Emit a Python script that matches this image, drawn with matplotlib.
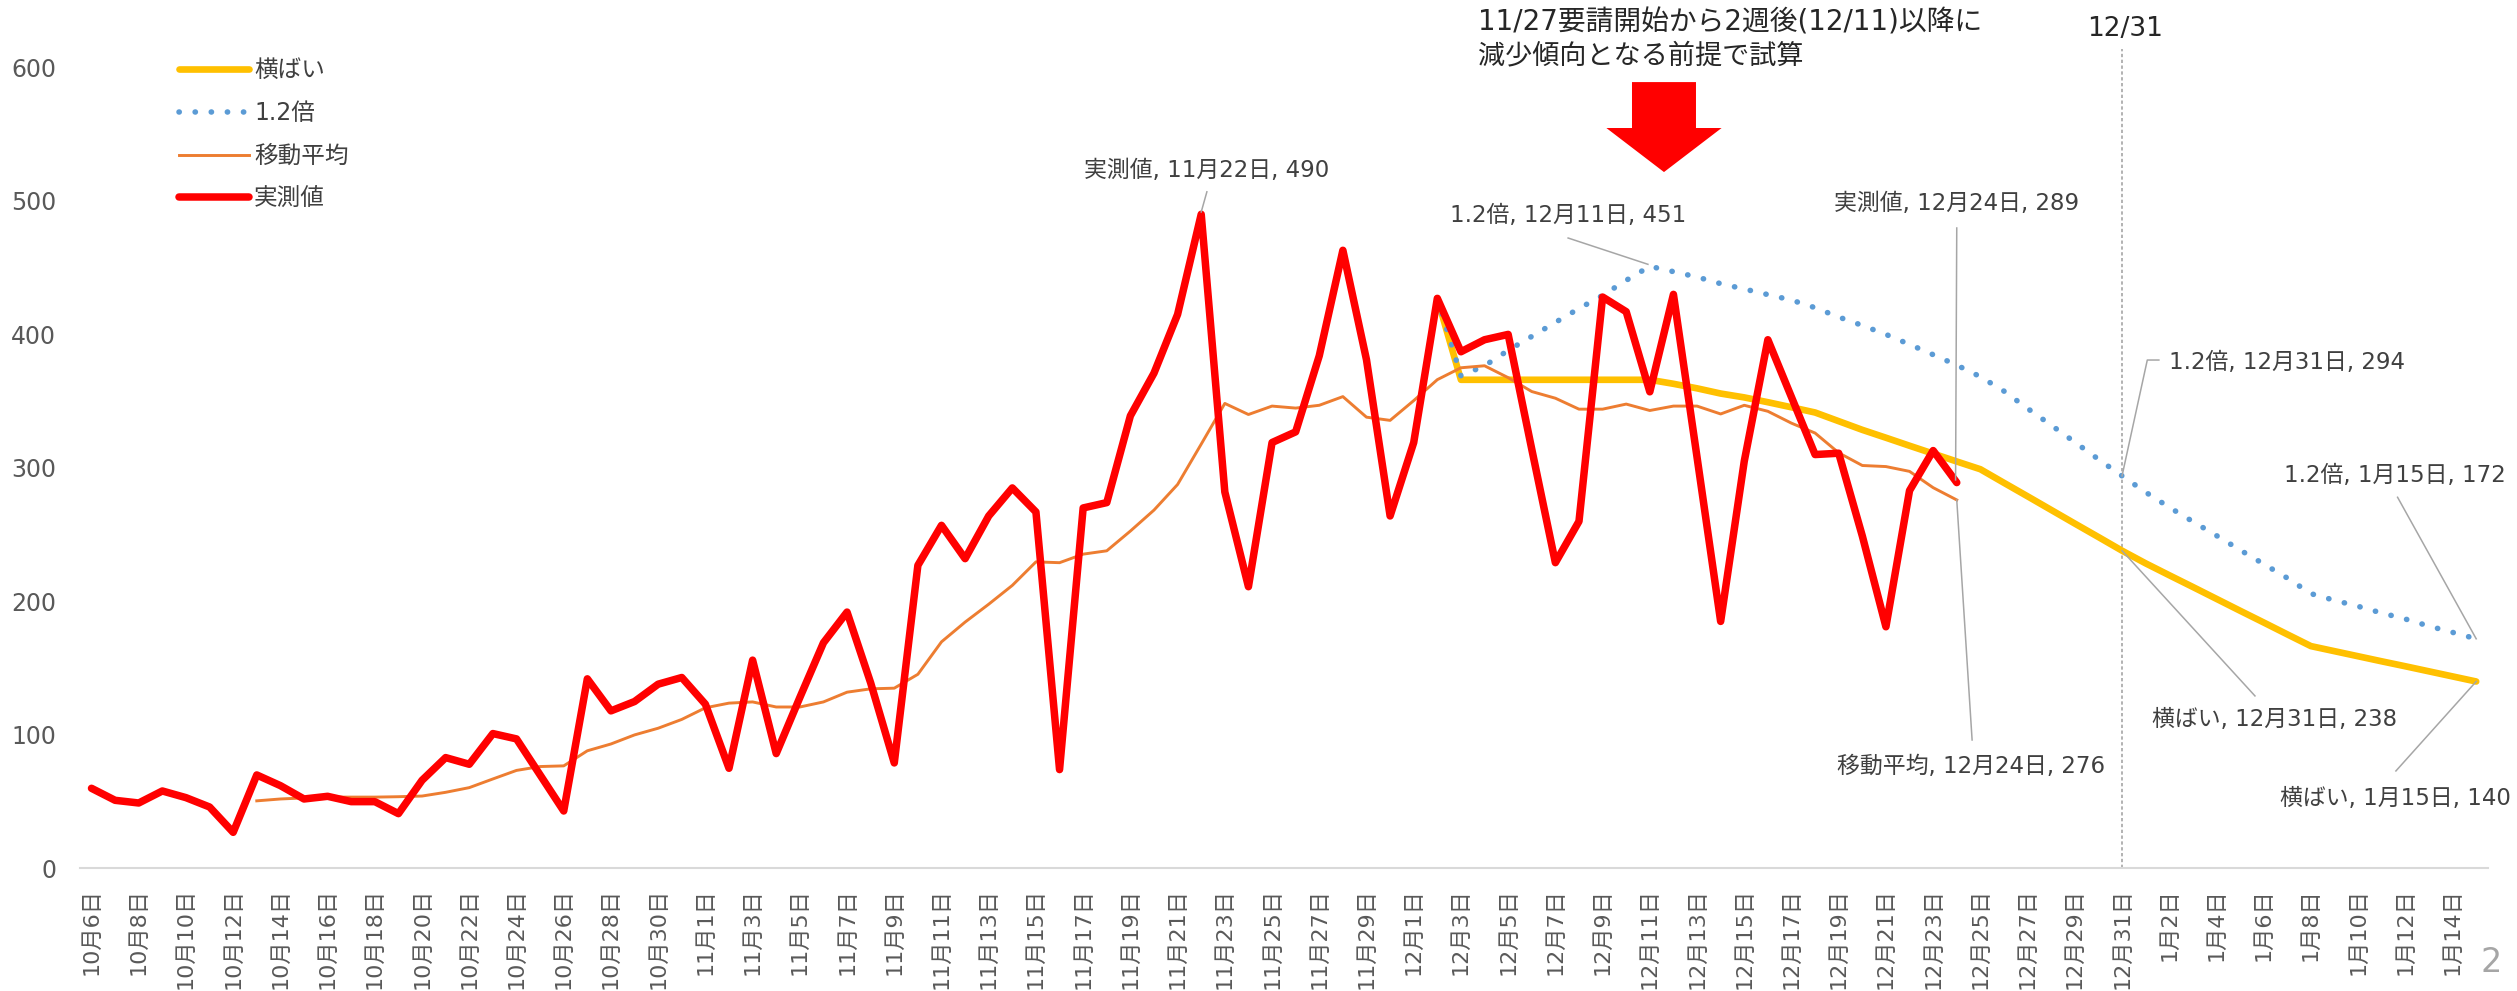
import numpy as np
import pandas as pd
import matplotlib
matplotlib.use('Agg')
import matplotlib.pyplot as plt
from matplotlib.lines import Line2D
from matplotlib.patches import Polygon

plt.rcParams['font.family'] = ['DejaVu Sans', 'Noto Sans CJK JP']

# ---------------- data ----------------
dates = pd.date_range('2020-10-06', '2021-01-15', freq='D')
categories = [f"{d.month}月{d.day}日" for d in dates]

actual_start = '10月6日'
actual = [60, 51, 49, 58, 53, 46, 27, 70, 62, 52, 54, 50, 50, 41, 66, 83, 78, 101, 97, 70,
          43, 142, 118, 125, 138, 143, 123, 75, 156, 86, 128, 169, 192, 139, 79, 227, 257, 232,
          264, 285, 267, 74, 270, 274, 339, 371, 415, 490, 282, 211, 319, 327, 384, 463, 381,
          264, 319, 427, 387, 396, 400, 314, 229, 260, 428, 417, 357, 430, 308, 185, 305, 396,
          353, 310, 311, 249, 181, 283, 313, 289]

ma_start = '10月13日'
moving_avg = [50.6, 52, 52.8, 53.4, 53.4, 53.4, 53.7, 54.2, 57, 60.5, 67, 73.4, 76.3, 76.8,
              88.1, 93.2, 100, 105, 111.6, 120.3, 123.8, 124.7, 120.9, 120.9, 124.7, 132,
              134.5, 135, 145.4, 169.7, 184.5, 197.9, 212, 229.6, 229, 235.4, 237.9, 252.7,
              268.4, 287.6, 317.8, 348.3, 340, 346.3, 344.8, 346.9, 353.4, 338, 335.6, 350.4,
              366.1, 375, 376.5, 367.6, 357.2, 352.2, 344, 344, 347.8, 343, 346.3, 346.3,
              340.4, 346.9, 342.4, 333.5, 326.1, 311.3, 301.8, 301, 297.4, 285.2, 276]

flat_start = '12月2日'
flat = [427, 366, 366, 366, 366, 366, 366, 366, 366, 366, 363, 359.6, 355.7, 352.8, 349.2,
        345.4, 341.5, 335, 328.5, 322.6, 316.6, 310.7, 304.8, 299, 288.8, 278.7, 268.5,
        258.3, 248.2, 238, 228.5, 219.6, 210.8, 201.9, 193, 184.2, 175.3, 166.5, 162.7,
        158.9, 155.1, 151.4, 147.6, 143.8, 140]

x12_start = '12月2日'
x12 = [427, 369, 376.5, 388, 398.5, 409, 419.4, 429.2, 440.5, 451, 447, 443, 438, 434,
       429.8, 425.7, 420, 413, 406.7, 400, 392.5, 384.8, 377, 368.3, 357.5, 344.5, 332,
       319.3, 306.5, 294, 281.8, 270.5, 259.8, 249.3, 238.5, 228, 217.5, 205.8, 200.8,
       196.3, 191.3, 186.8, 181.5, 176.8, 172]

tick_labels = categories[::2]
y_ticks = [0, 100, 200, 300, 400, 500, 600]

legend_names = ['横ばい', '1.2倍', '移動平均', '実測値']

# ---------------- style ----------------
C_FLAT = '#FFC000'
C_X12 = '#5B9BD5'
C_MA = '#ED7D31'
C_ACT = '#FF0000'
C_TXT = '#404040'
C_AX = '#595959'
C_LEAD = '#A6A6A6'

W, H, DPI = 2517, 991, 100
fig = plt.figure(figsize=(W / DPI, H / DPI), dpi=DPI)
ax = fig.add_axes([79.7 / W, 1 - 868.4 / H, (2488 - 79.7) / W, (868.4 - 67.4) / H])


def xs(start, vals):
    i0 = categories.index(start)
    return np.arange(i0, i0 + len(vals))


ax.plot(xs(flat_start, flat), flat, color=C_FLAT, lw=4.8, solid_capstyle='round',
        solid_joinstyle='round', zorder=2)
ax.plot(xs(x12_start, x12), x12, color=C_X12, lw=4.0, linestyle=(0, (0.05, 2.85)),
        dash_capstyle='round', zorder=3)
ax.plot(xs(ma_start, moving_avg), moving_avg, color=C_MA, lw=2.1, solid_joinstyle='round',
        zorder=4)
ax.plot(xs(actual_start, actual), actual, color=C_ACT, lw=5.4, solid_capstyle='round',
        solid_joinstyle='round', zorder=5)

ax.set_xlim(-0.5, len(categories) - 0.5)
ax.set_ylim(0, 600)
ax.set_xticks(np.arange(0, len(categories), 2))
ax.set_xticklabels(tick_labels, rotation=90, ha='center', va='top', fontsize=16, color=C_AX)
ax.set_yticks(y_ticks)
ax.set_yticklabels([str(v) for v in y_ticks], fontsize=17, color=C_AX)
ax.tick_params(axis='x', length=0, pad=14)
ax.tick_params(axis='y', length=0, pad=17)
for s in ['top', 'right', 'left']:
    ax.spines[s].set_visible(False)
ax.spines['bottom'].set_color('#D9D9D9')
ax.spines['bottom'].set_linewidth(1.5)

# 12/31 marker line
i_1231 = categories.index('12月31日')
ax.plot([i_1231, i_1231], [0, 614], color=C_LEAD, lw=1.2, linestyle=(0, (2, 1.5)),
        clip_on=False, zorder=1)
fig.text(2125 / W, 1 - 29 / H, '12/31', ha='center', va='center', fontsize=19, color='#262626')

# header text and arrow
fig.text(1478 / W, 1 - 22 / H, '11/27要請開始から2週後(12/11)以降に', ha='left', va='center',
         fontsize=20, color='#262626')
fig.text(1478 / W, 1 - 56 / H, '減少傾向となる前提で試算', ha='left', va='center',
         fontsize=19.5, color='#262626')
cx = 66.6
arrow = Polygon([(cx - 1.355, 589), (cx + 1.355, 589), (cx + 1.355, 554.6), (cx + 2.44, 554.6),
                 (cx, 521.6), (cx - 2.44, 554.6), (cx - 1.355, 554.6)], closed=True,
                facecolor='#FF0000', edgecolor='none', clip_on=False, zorder=6)
ax.add_patch(arrow)

# data labels with leader lines
labels = [
    ('実測値, 11月22日, 490', 47.24, 522.5, 'center', [(47.24, 506.8), (47.0, 491.7)]),
    ('1.2倍, 12月11日, 451', 62.54, 488.7, 'center', [(62.54, 472.2), (65.92, 452.5)]),
    ('実測値, 12月24日, 289', 79.0, 497.7, 'center', [(79.0, 479.7), (78.95, 291)]),
    ('移動平均, 12月24日, 276', 79.6, 76.0, 'center', [(79.0, 276), (79.65, 96.2)]),
    ('1.2倍, 12月31日, 294', 88.0, 378.6, 'left', [(86.0, 294), (87.07, 380.8), (87.56, 380.8)]),
    ('1.2倍, 1月15日, 172', 97.56, 294.0, 'center', [(97.67, 278), (101.0, 172)]),
    ('横ばい, 12月31日, 238', 92.48, 111.2, 'center', [(86.0, 238), (91.63, 129.2)]),
    ('横ばい, 1月15日, 140', 97.6, 52.7, 'center', [(101.0, 140), (97.6, 73)]),
]
for txt, tx, ty, ha, pts in labels:
    ax.text(tx, ty, txt, ha=ha, va='center', fontsize=16.5, color=C_TXT, clip_on=False, zorder=7)
    px, py = zip(*pts)
    ax.plot(px, py, color=C_LEAD, lw=1.1, clip_on=False, zorder=6)

# legend
handles = [
    Line2D([], [], color=C_FLAT, lw=4.8, solid_capstyle='round'),
    Line2D([], [], color=C_X12, lw=4.0, linestyle=(0, (0.05, 2.85)), dash_capstyle='round'),
    Line2D([], [], color=C_MA, lw=2.1),
    Line2D([], [], color=C_ACT, lw=5.4, solid_capstyle='round'),
]
leg = fig.legend(handles, legend_names, loc='upper left',
                 bbox_to_anchor=(178.6 / W, 1 - 58 / H), frameon=False, fontsize=17,
                 handlelength=3.0, handletextpad=0.2, labelspacing=0.8, borderpad=0,
                 borderaxespad=0)
for t in leg.get_texts():
    t.set_color(C_TXT)

# page number
fig.text(2491 / W, 1 - 962 / H, '2', ha='center', va='center', fontsize=24, color='#A6A6A6')

fig.savefig('out.png', dpi=DPI)
